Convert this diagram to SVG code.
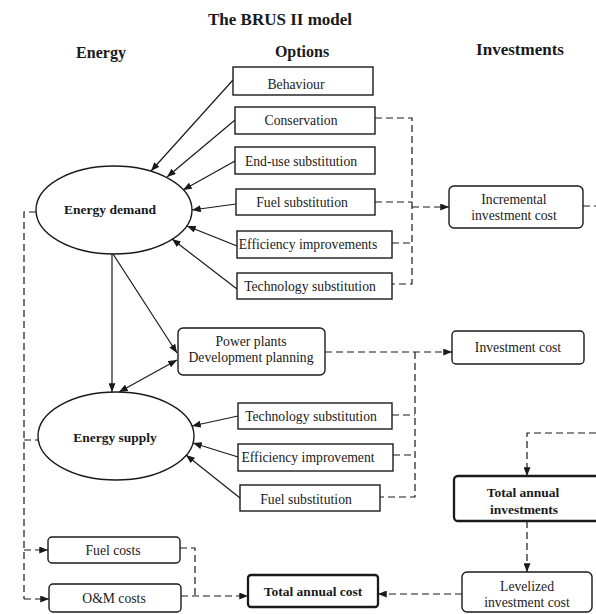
<svg xmlns="http://www.w3.org/2000/svg" width="596" height="614" viewBox="0 0 596 614">
<defs>
<marker id="ah" viewBox="0 0 10 8" refX="10" refY="4" markerWidth="9" markerHeight="7" markerUnits="userSpaceOnUse" orient="auto-start-reverse">
<path d="M0,0 L10,4 L0,8 z" fill="#1a1a1a"/>
</marker>
</defs>
<style>
text{font-family:"Liberation Serif","Times New Roman",serif;fill:#1a1a1a;text-anchor:middle}
.t{font-size:13.7px}
.b{font-size:13.5px;font-weight:bold}
.h{font-size:16px;font-weight:bold}
.box{fill:#fff;stroke:#1a1a1a;stroke-width:1.4}
.thick{fill:#fff;stroke:#1a1a1a;stroke-width:2.3}
.sol{fill:none;stroke:#1a1a1a;stroke-width:1.2}
.dash{fill:none;stroke:#1a1a1a;stroke-width:1.2;stroke-dasharray:7 4}
.arr{marker-end:url(#ah)}
</style>
<rect width="596" height="614" fill="#fff"/>

<g id="headers">
<text x="280" y="25" style="font-size:17px;font-weight:bold">The BRUS II model</text>
<text x="101" y="58" class="h">Energy</text>
<text x="302" y="57" class="h">Options</text>
<text x="520" y="55" class="h" style="font-size:17px">Investments</text>
</g>

<g id="connectors">
<!-- demand options -> Energy demand -->
<line class="sol arr" x1="233" y1="80" x2="151" y2="171"/>
<line class="sol arr" x1="235" y1="120" x2="167" y2="177"/>
<line class="sol arr" x1="235" y1="161" x2="183" y2="190"/>
<line class="sol arr" x1="236" y1="204" x2="192" y2="210"/>
<line class="sol arr" x1="237" y1="246" x2="187" y2="226"/>
<line class="sol arr" x1="237" y1="289" x2="172" y2="239"/>
<!-- demand -> supply, demand -> power plants, supply <-> power plants -->
<line class="sol arr" x1="112" y1="254" x2="112" y2="392"/>
<line class="sol arr" x1="113" y1="254" x2="177" y2="353"/>
<line class="sol arr" x1="119" y1="392" x2="177" y2="360" style="marker-start:url(#ah)"/>
<!-- supply options -> Energy supply -->
<line class="sol arr" x1="238" y1="416" x2="192" y2="426"/>
<line class="sol arr" x1="238" y1="457" x2="193" y2="443"/>
<line class="sol arr" x1="240" y1="498" x2="186" y2="455"/>
<!-- demand option costs bracket -->
<polyline class="dash" points="375,118 412,118 412,284 392,284"/>
<line class="dash" x1="375" y1="202" x2="412" y2="202"/>
<line class="dash" x1="392" y1="243" x2="412" y2="243"/>
<line class="dash arr" x1="412" y1="207" x2="449" y2="207"/>
<line class="dash" x1="583" y1="206" x2="596" y2="206"/>
<!-- supply option costs bracket -->
<line class="dash arr" x1="325" y1="352" x2="452" y2="352"/>
<polyline class="dash" points="415,352 415,497 380,497"/>
<line class="dash" x1="392" y1="415" x2="415" y2="415"/>
<line class="dash" x1="393" y1="455" x2="415" y2="455"/>
<!-- investments chain -->
<polyline class="dash arr" points="596,433 527,433 527,476"/>
<line class="dash arr" x1="527" y1="521" x2="527" y2="572"/>
<line class="dash arr" x1="462" y1="594" x2="378" y2="594"/>
<!-- operating costs -->
<polyline class="dash" points="36,212 24,212 24,599"/>
<line class="dash" x1="24" y1="440" x2="38" y2="440"/>
<line class="dash arr" x1="24" y1="550" x2="48" y2="550"/>
<line class="dash arr" x1="24" y1="599" x2="49" y2="599"/>
<polyline class="dash" points="180,548 195,548 195,596"/>
<line class="dash arr" x1="181" y1="596" x2="248" y2="596"/>
</g>

<g id="energy-demand">
<ellipse cx="114" cy="210" rx="78" ry="44" class="box"/>
<text x="110" y="214" class="b">Energy demand</text>
</g>
<g id="energy-supply">
<ellipse cx="116" cy="436" rx="78" ry="44" class="box"/>
<text x="115" y="442" class="b">Energy supply</text>
</g>

<g id="behaviour">
<rect x="233" y="67" width="140" height="28" class="box"/>
<text x="296" y="89" class="t">Behaviour</text>
</g>
<g id="conservation">
<rect x="235" y="107" width="140" height="27" class="box"/>
<text x="301" y="125" class="t">Conservation</text>
</g>
<g id="end-use-substitution">
<rect x="235" y="147" width="140" height="27" class="box"/>
<text x="301" y="166" class="t">End-use substitution</text>
</g>
<g id="fuel-substitution-demand">
<rect x="236" y="189" width="139" height="26" class="box"/>
<text x="302" y="207" class="t">Fuel substitution</text>
</g>
<g id="efficiency-improvements">
<rect x="237" y="231" width="155" height="27" class="box"/>
<text x="308" y="249" class="t">Efficiency improvements</text>
</g>
<g id="technology-substitution-demand">
<rect x="237" y="273" width="155" height="26" class="box"/>
<text x="310" y="291" class="t">Technology substitution</text>
</g>

<g id="power-plants">
<rect x="178" y="328" width="147" height="47" rx="5" class="box"/>
<text x="251" y="346" class="t">Power plants</text>
<text x="251" y="362" class="t">Development planning</text>
</g>

<g id="technology-substitution-supply">
<rect x="238" y="403" width="154" height="26" class="box"/>
<text x="311" y="421" class="t">Technology substitution</text>
</g>
<g id="efficiency-improvement">
<rect x="238" y="444" width="155" height="27" class="box"/>
<text x="308" y="462" class="t">Efficiency improvement</text>
</g>
<g id="fuel-substitution-supply">
<rect x="240" y="485" width="140" height="26" class="box"/>
<text x="306" y="504" class="t">Fuel substitution</text>
</g>

<g id="incremental-investment-cost">
<rect x="449" y="186" width="134" height="42" rx="5" class="box"/>
<text x="514" y="204" class="t">Incremental</text>
<text x="514" y="220" class="t">investment cost</text>
</g>
<g id="investment-cost">
<rect x="452" y="331" width="132" height="33" rx="4" class="box"/>
<text x="518" y="352" class="t">Investment cost</text>
</g>
<g id="total-annual-investments">
<rect x="454" y="476" width="150" height="45" rx="4" class="thick"/>
<text x="523" y="497" class="b">Total annual</text>
<text x="524" y="514" class="b">investments</text>
</g>
<g id="levelized-investment-cost">
<rect x="462" y="572" width="130" height="40" rx="5" class="box"/>
<text x="527" y="591" class="t">Levelized</text>
<text x="527" y="607" class="t">investment cost</text>
</g>
<g id="total-annual-cost">
<rect x="248" y="575" width="130" height="32" rx="3" class="thick"/>
<text x="313" y="596" class="b">Total annual cost</text>
</g>
<g id="fuel-costs">
<rect x="48" y="537" width="132" height="26" rx="4" class="box"/>
<text x="113" y="555" class="t">Fuel costs</text>
</g>
<g id="om-costs">
<rect x="49" y="584" width="132" height="28" rx="4" class="box"/>
<text x="114" y="603" class="t">O&amp;M costs</text>
</g>
</svg>
